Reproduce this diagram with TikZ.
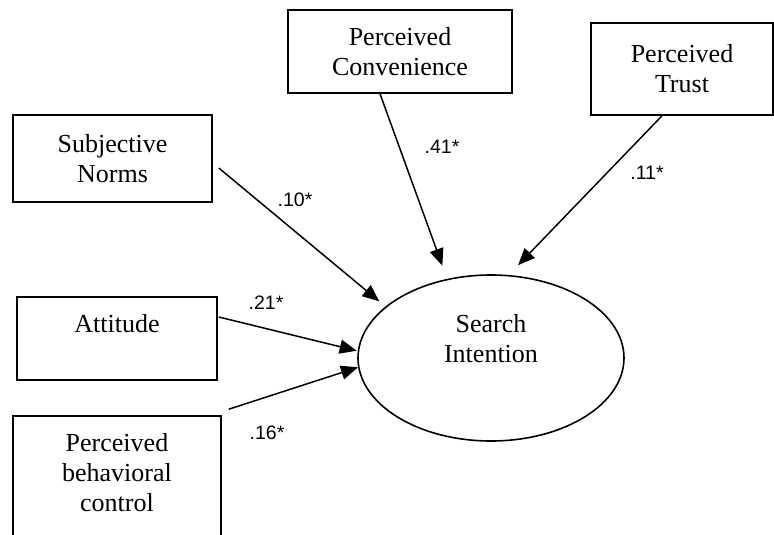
\documentclass[tikz,border=0pt]{standalone}
\usepackage{fontspec}
\setmainfont{Liberation Serif}
\newfontfamily\coeffont{Liberation Sans}
\usetikzlibrary{arrows.meta}
\usetikzlibrary{calc}
\usetikzlibrary{shapes.geometric}

\begin{document}
\begin{tikzpicture}[x=1pt,y=-1pt,
box/.style={draw,line width=1.6pt,inner sep=0pt,align=center,font=\fontsize{26}{30}\selectfont},
latent/.style={ellipse,draw,line width=1.6pt,inner sep=0pt,minimum width=266pt,minimum height=166pt},
txt/.style={align=center,inner sep=0pt,font=\fontsize{26}{30}\selectfont},
coef/.style={inner sep=0pt,font=\coeffont\fontsize{19.5}{22}\selectfont},
effect/.style={line width=1.5pt,-{Triangle[length=17pt,width=14pt]}}]

\useasboundingbox (0,0) rectangle (774,535);
\clip (0,0) rectangle (774,535);

\node[box,minimum width=224pt,minimum height=83pt] (conv) at (400,51.5) {Perceived\\Convenience};
\node[box,minimum width=182pt,minimum height=92pt] (trust) at (682,69) {Perceived\\Trust};
\node[box,minimum width=199pt,minimum height=87pt] (norms) at (112.5,158.5) {Subjective\\Norms};
\node[box,minimum width=200pt,minimum height=83pt] (att) at (117,338.5) {Attitude\\\mbox{}};
\node[box,minimum width=208pt,minimum height=142pt] (pbc) at (117,487) {Perceived\\behavioral\\control\\\mbox{}};

\node[latent] (si) at (491,358) {};
\node[txt] (si text) at ($(si.center)+(0,-19.5)$) {Search\\Intention};

\draw[effect,shorten >=8pt] ($(norms.east)+(6,9.5)$) -- (si.154);
\draw[effect,shorten >=14pt] ($(conv.south)+(-20,0)$) -- (si.119);
\draw[effect,shorten >=13.5pt] ($(trust.south)+(-20,0)$) -- (si.78);
\draw[effect,shorten >=1pt] ($(att.east)+(1,-21.5)$) -- (si.177);
\draw[effect] ($(pbc.north east)+(7,-6)$) -- (si.184);

\node[coef] (b norms) at (295,200) {.10*};
\node[coef] (b conv) at (442,147) {.41*};
\node[coef] (b trust) at (647,173) {.11*};
\node[coef] (b att) at (266,303) {.21*};
\node[coef] (b pbc) at (267,433) {.16*};
\end{tikzpicture}
\end{document}
